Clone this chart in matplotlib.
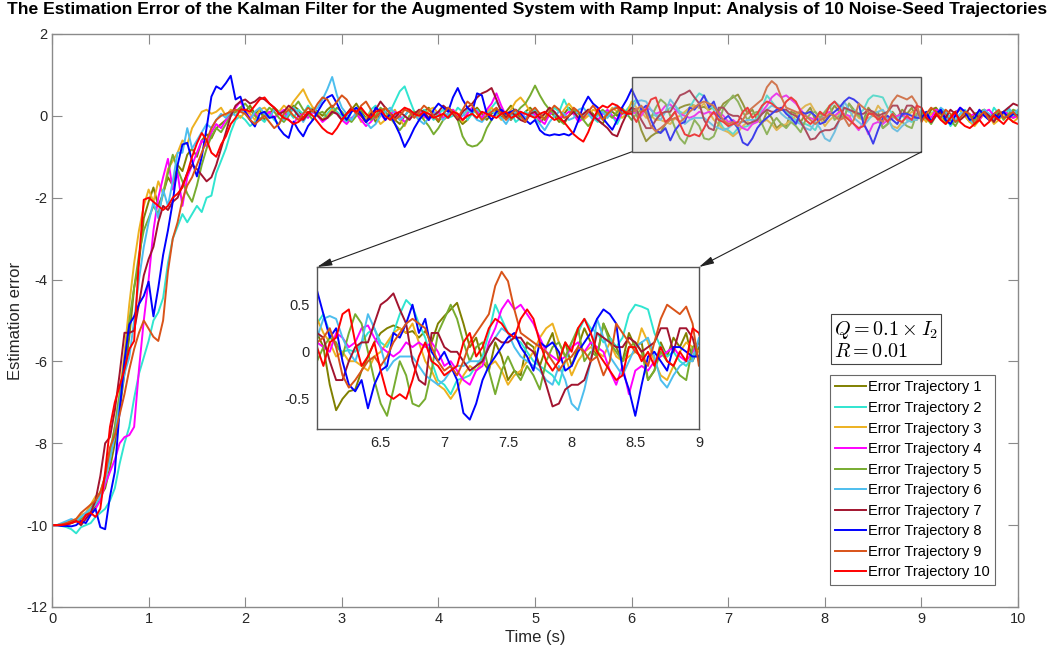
import numpy as np
import matplotlib
matplotlib.use("Agg")
import matplotlib.pyplot as plt
from matplotlib.patches import Rectangle

plt.rcParams['font.family'] = ['Liberation Sans', 'DejaVu Sans']
plt.rcParams['mathtext.fontset'] = 'cm'

# Time axis: 0 .. 10 s, sampled every 0.05 s
time_s = np.linspace(0.0, 10.0, 201)

traj_1 = [
    -10.00, -10.00, -10.00, -9.98, -9.95, -9.90, -9.85, -9.80, -9.70, -9.55, -9.30, -9.10, -8.60, -8.00, -7.20, -6.30, -5.40, -4.20, -3.60, -2.50,
    -2.10, -1.75, -2.20, -1.90, -1.50, -1.70, -1.20, -1.35, -0.95, -0.80, -1.00, -0.60, -0.45, -0.55, -0.30, -0.20, -0.10, 0.05, 0.10, 0.20,
    0.10, 0.25, 0.05, 0.15, -0.10, 0.05, 0.20, 0.10, -0.05, 0.10, 0.25, 0.15, -0.05, 0.05, 0.20, 0.10, 0.00, 0.15, 0.25, 0.05,
    -0.10, 0.05, 0.15, 0.30, 0.10, -0.05, 0.10, -0.15, 0.05, 0.20, 0.10, -0.10, -0.20, 0.00, 0.15, 0.05, -0.10, 0.10, 0.20, 0.00,
    -0.15, 0.05, 0.20, 0.10, -0.05, -0.20, -0.10, 0.10, 0.20, 0.05, -0.10, 0.05, 0.15, -0.05, 0.10, 0.25, 0.10, -0.05, 0.10, 0.20,
    0.05, -0.15, -0.05, 0.10, 0.00, -0.15, 0.05, 0.20, 0.10, -0.10, 0.00, 0.15, 0.05, -0.10, -0.20, 0.05, 0.10, 0.00, 0.15, 0.05,
    0.20, 0.05, -0.35, -0.62, -0.50, -0.42, -0.40, -0.20, -0.05, 0.10, 0.20, 0.25, 0.28, 0.25, 0.20, 0.22, 0.15, 0.22, 0.10, 0.30,
    0.38, 0.45, 0.52, 0.30, 0.05, 0.15, -0.10, -0.20, 0.10, -0.05, -0.30, -0.20, -0.25, 0.10, 0.05, -0.15, 0.05, 0.20, -0.10, 0.10,
    -0.15, 0.05, 0.25, 0.10, -0.05, 0.30, 0.15, 0.05, -0.10, 0.20, 0.05, 0.10, -0.30, -0.20, 0.10, -0.05, 0.15, 0.05, 0.20, -0.10,
    0.05, -0.10, 0.15, 0.20, 0.05, -0.15, 0.00, 0.10, 0.15, 0.00, -0.15, 0.05, 0.10, 0.15, 0.00, -0.10, 0.05, 0.10, 0.00, -0.05,
    0.05,
]

traj_2 = [
    -10.00, -10.00, -10.02, -10.05, -10.10, -10.20, -10.05, -10.00, -9.95, -9.80, -9.70, -9.60, -9.40, -9.10, -8.50, -8.00, -7.60, -6.90, -6.30, -5.90,
    -5.50, -5.00, -4.80, -4.45, -3.60, -3.00, -2.70, -2.40, -2.60, -2.40, -2.20, -2.35, -2.00, -1.95, -1.40, -1.10, -0.80, -0.40, -0.10, 0.00,
    -0.10, -0.25, -0.15, -0.05, -0.15, 0.05, -0.10, -0.20, 0.00, 0.10, -0.05, 0.15, 0.05, 0.25, 0.10, 0.00, -0.10, 0.05, 0.20, 0.10,
    0.00, -0.15, 0.10, 0.20, 0.05, -0.10, 0.15, 0.25, 0.05, -0.05, 0.10, 0.35, 0.60, 0.72, 0.40, 0.10, 0.00, 0.15, 0.05, -0.10,
    0.05, 0.15, -0.05, 0.00, 0.20, 0.10, -0.10, 0.05, 0.15, -0.05, 0.00, 0.20, 0.35, 0.15, 0.05, 0.10, -0.15, -0.05, 0.10, 0.00,
    0.15, 0.05, -0.10, 0.00, 0.20, 0.10, 0.40, 0.15, 0.05, -0.10, 0.00, 0.15, -0.05, -0.15, 0.05, 0.10, 0.00, -0.20, 0.05, 0.15,
    0.30, 0.40, 0.20, 0.05, 0.00, 0.02, 0.00, 0.10, 0.20, 0.25, 0.10, 0.05, 0.20, 0.40, 0.55, 0.48, 0.30, 0.15, -0.10, -0.30,
    -0.35, -0.45, -0.30, -0.28, -0.25, -0.15, -0.05, 0.20, 0.50, 0.35, 0.20, 0.15, 0.10, 0.00, -0.10, -0.15, -0.20, -0.25, -0.35, -0.10,
    0.10, 0.20, 0.35, 0.25, 0.20, 0.10, 0.15, 0.05, 0.15, 0.40, 0.50, 0.48, 0.45, 0.20, 0.05, -0.05, 0.00, -0.10, -0.15, -0.05,
    0.10, -0.10, 0.05, 0.15, -0.05, 0.00, -0.25, -0.10, 0.05, 0.15, 0.00, -0.15, 0.10, 0.05, -0.10, 0.20, 0.05, -0.05, 0.15, 0.00,
    0.10,
]

traj_3 = [
    -10.00, -10.00, -10.00, -9.95, -9.90, -9.85, -9.75, -9.70, -9.50, -9.30, -9.20, -8.90, -8.40, -7.60, -6.80, -5.80, -4.60, -3.60, -2.80, -2.20,
    -1.80, -2.10, -1.60, -1.90, -1.30, -1.10, -0.90, -0.60, -0.70, -0.30, -0.10, 0.10, 0.15, 0.05, 0.10, 0.20, 0.00, 0.15, 0.10, -0.05,
    0.10, 0.05, -0.10, 0.15, 0.20, 0.05, -0.05, 0.10, 0.25, 0.15, 0.35, 0.50, 0.65, 0.40, 0.20, 0.05, -0.10, 0.00, 0.15, 0.05,
    -0.10, 0.05, 0.20, 0.10, -0.15, -0.05, 0.10, 0.00, -0.20, -0.10, 0.05, 0.15, -0.10, -0.25, 0.00, 0.10, 0.05, -0.05, 0.15, 0.20,
    0.05, -0.10, 0.00, 0.15, 0.05, -0.15, 0.10, 0.20, 0.05, -0.05, 0.10, 0.20, 0.05, -0.10, 0.00, 0.15, 0.35, 0.45, 0.30, 0.10,
    0.00, -0.10, 0.05, 0.20, 0.10, -0.05, 0.15, 0.30, 0.15, 0.05, -0.10, 0.00, 0.15, 0.10, -0.05, 0.05, 0.20, 0.10, -0.05, 0.05,
    0.35, 0.20, 0.10, -0.05, 0.00, -0.10, -0.10, -0.15, -0.20, -0.05, 0.00, 0.10, 0.20, 0.25, 0.20, 0.30, 0.10, -0.10, -0.20, -0.35,
    -0.40, -0.50, -0.40, -0.25, -0.15, -0.20, -0.10, -0.15, -0.10, -0.20, -0.35, -0.25, -0.20, -0.10, 0.00, 0.15, 0.25, 0.30, 0.10, -0.05,
    -0.25, -0.10, 0.00, 0.05, 0.00, -0.05, 0.10, -0.05, -0.10, -0.05, 0.00, 0.25, 0.10, -0.10, -0.25, -0.30, -0.15, 0.00, 0.10, 0.05,
    0.00, -0.15, 0.05, 0.10, -0.05, -0.20, -0.10, 0.05, 0.15, 0.00, -0.15, -0.25, -0.10, 0.05, 0.00, -0.20, -0.10, 0.05, -0.05, -0.15,
    -0.05,
]

traj_4 = [
    -10.00, -10.00, -9.98, -9.95, -9.92, -9.90, -9.88, -9.80, -9.75, -9.60, -9.40, -9.00, -8.70, -8.40, -8.00, -7.85, -7.80, -7.60, -6.20, -5.00,
    -4.00, -2.80, -2.00, -1.50, -1.05, -1.80, -1.40, -2.20, -1.50, -1.20, -0.90, -0.60, -0.75, -0.40, -0.20, -0.30, -0.10, 0.00, 0.20, 0.35,
    0.10, -0.05, 0.05, -0.10, 0.00, 0.10, -0.05, 0.05, 0.15, -0.10, -0.20, 0.00, 0.05, -0.05, 0.10, 0.00, -0.15, -0.05, 0.10, 0.05,
    -0.10, -0.20, -0.05, 0.05, -0.10, -0.25, -0.15, 0.00, 0.05, -0.10, 0.05, 0.10, 0.00, -0.15, -0.05, 0.05, 0.10, 0.00, -0.10, 0.05,
    0.10, -0.05, 0.05, 0.15, 0.00, -0.10, 0.05, 0.20, 0.10, -0.05, 0.15, 0.30, 0.55, 0.25, 0.00, -0.10, 0.05, 0.10, -0.05, 0.00,
    0.05, -0.10, -0.20, 0.05, 0.10, -0.05, 0.00, 0.10, 0.05, -0.15, -0.05, 0.10, 0.00, -0.10, 0.05, 0.15, 0.00, -0.10, 0.05, 0.10,
    0.10, 0.05, 0.00, 0.20, 0.15, 0.05, 0.10, 0.25, 0.28, 0.15, 0.05, 0.00, -0.05, 0.00, 0.10, 0.05, 0.10, 0.05, 0.10, 0.00,
    -0.15, -0.10, -0.20, -0.30, -0.35, -0.20, -0.15, 0.10, 0.25, 0.45, 0.55, 0.45, 0.50, 0.40, 0.30, 0.15, 0.00, -0.05, -0.10, -0.05,
    0.05, 0.10, 0.00, 0.10, 0.05, 0.00, -0.20, -0.35, -0.15, -0.45, -0.20, -0.15, -0.20, -0.10, -0.05, 0.00, 0.05, -0.05, -0.10, 0.00,
    0.10, 0.05, -0.05, 0.15, 0.10, 0.00, -0.10, 0.05, 0.20, 0.10, 0.00, 0.05, -0.10, 0.10, 0.15, 0.00, -0.05, 0.10, 0.05, -0.05,
    0.00,
]

traj_5 = [
    -10.00, -10.00, -9.98, -9.95, -9.92, -9.90, -9.85, -9.75, -9.60, -9.40, -9.20, -8.80, -8.20, -7.60, -6.80, -6.00, -5.00, -4.20, -3.40, -2.80,
    -2.50, -2.20, -2.40, -1.90, -1.40, -0.95, -1.30, -1.60, -1.90, -2.10, -1.70, -1.20, -0.80, -0.50, -0.30, -0.40, -0.20, 0.00, 0.10, 0.20,
    0.30, 0.15, 0.00, -0.10, 0.05, 0.20, 0.10, -0.05, -0.15, 0.00, 0.20, 0.35, 0.15, 0.05, -0.10, 0.05, 0.10, -0.05, 0.05, 0.20,
    0.10, -0.05, -0.15, 0.00, 0.15, 0.05, -0.10, 0.00, 0.20, 0.10, -0.05, -0.20, -0.35, -0.20, 0.00, 0.10, 0.05, -0.10, -0.25, -0.45,
    -0.30, -0.10, 0.00, 0.10, -0.10, -0.50, -0.70, -0.75, -0.72, -0.60, -0.30, -0.10, 0.05, 0.15, 0.00, -0.10, 0.05, 0.20, 0.30, 0.50,
    0.74, 0.50, 0.30, 0.15, 0.05, -0.10, -0.20, 0.00, 0.15, 0.05, -0.10, -0.25, -0.10, 0.05, 0.15, 0.05, -0.05, 0.10, 0.20, 0.05,
    -0.10, 0.05, 0.15, 0.10, -0.05, 0.20, 0.40, 0.30, 0.00, -0.30, -0.55, -0.68, -0.40, -0.10, -0.25, -0.55, -0.58, -0.50, -0.20, 0.20,
    0.35, 0.50, 0.35, 0.10, -0.10, 0.05, 0.10, -0.20, -0.45, -0.20, -0.05, -0.20, -0.30, -0.15, -0.25, -0.40, -0.10, 0.05, 0.10, -0.05,
    0.10, 0.25, -0.10, 0.00, -0.05, 0.30, 0.10, 0.00, -0.10, 0.05, 0.10, 0.00, -0.30, -0.20, 0.00, -0.10, -0.15, -0.25, -0.30, 0.05,
    0.10, -0.05, -0.20, 0.00, 0.15, 0.05, -0.10, -0.25, -0.05, 0.10, 0.00, -0.10, 0.05, 0.15, -0.05, 0.00, 0.10, -0.10, 0.05, 0.15,
    0.10,
]

traj_6 = [
    -10.00, -10.00, -9.95, -9.90, -9.85, -9.90, -9.80, -9.70, -9.60, -9.50, -9.30, -8.90, -8.40, -7.80, -7.00, -6.30, -5.90, -5.00, -4.00, -3.20,
    -2.60, -2.10, -2.50, -1.80, -2.20, -1.60, -0.90, -0.90, -0.30, -0.80, -0.60, -0.40, -0.20, -0.30, -0.10, 0.05, -0.05, 0.10, 0.00, 0.15,
    0.05, -0.10, 0.10, 0.20, 0.05, -0.05, 0.15, 0.10, -0.10, 0.05, 0.20, 0.05, -0.15, 0.05, 0.10, 0.20, 0.40, 0.65, 0.95, 0.50,
    0.20, 0.05, -0.10, 0.10, 0.00, -0.15, -0.30, -0.20, 0.00, 0.10, 0.20, 0.05, -0.10, 0.00, 0.15, 0.05, -0.10, -0.20, -0.05, 0.10,
    0.00, -0.10, 0.05, 0.10, -0.05, 0.00, 0.15, 0.05, -0.10, -0.15, 0.00, 0.10, 0.05, -0.05, -0.20, 0.00, 0.10, 0.05, -0.05, 0.10,
    -0.05, -0.20, -0.35, -0.15, 0.00, 0.10, 0.05, -0.10, -0.05, 0.15, 0.20, 0.05, -0.10, 0.00, 0.10, -0.05, 0.15, 0.25, 0.10, 0.00,
    0.15, 0.35, 0.38, 0.35, 0.15, 0.00, -0.10, 0.10, 0.40, 0.25, 0.05, -0.20, -0.10, -0.05, -0.05, -0.05, -0.15, -0.25, -0.30, -0.35,
    -0.30, -0.20, -0.15, -0.15, -0.10, -0.10, -0.10, 0.05, 0.15, 0.25, 0.20, 0.05, -0.05, -0.10, -0.15, -0.20, -0.30, -0.35, -0.15, -0.30,
    -0.55, -0.62, -0.40, -0.10, 0.35, 0.15, -0.05, -0.15, -0.25, -0.10, 0.05, 0.10, 0.15, -0.05, -0.30, -0.38, -0.25, -0.15, -0.10, -0.10,
    0.15, 0.05, -0.10, 0.00, 0.20, 0.10, -0.05, -0.15, 0.05, 0.10, -0.10, -0.20, 0.00, 0.15, 0.05, -0.10, -0.05, 0.10, 0.20, 0.05,
    0.15,
]

traj_7 = [
    -10.00, -10.00, -10.00, -9.98, -9.95, -9.90, -10.00, -9.85, -9.70, -9.40, -8.80, -8.00, -7.85, -7.20, -6.30, -5.30, -5.30, -5.25, -4.60, -3.90,
    -3.50, -3.20, -2.60, -2.20, -2.30, -2.10, -2.00, -1.70, -1.40, -1.20, -1.30, -1.45, -1.60, -1.50, -1.20, -0.80, -0.40, 0.00, 0.25, 0.35,
    0.40, 0.30, 0.35, 0.45, 0.40, 0.30, 0.20, 0.05, 0.10, 0.25, 0.15, 0.00, -0.10, 0.05, 0.15, 0.00, -0.10, -0.05, 0.10, 0.05,
    -0.10, 0.05, 0.20, 0.10, 0.00, -0.15, 0.05, 0.15, 0.35, 0.20, 0.05, -0.05, 0.10, 0.00, -0.10, 0.05, 0.15, 0.10, -0.05, 0.00,
    0.10, 0.25, 0.15, 0.05, -0.10, 0.10, 0.20, 0.30, 0.45, 0.55, 0.60, 0.68, 0.40, 0.10, -0.05, 0.10, 0.00, -0.10, -0.15, 0.05,
    0.10, -0.05, 0.05, 0.20, 0.10, -0.05, -0.15, 0.00, 0.10, -0.05, 0.05, 0.15, 0.00, -0.10, -0.20, -0.30, -0.45, -0.50, -0.20, 0.05,
    0.20, 0.15, -0.10, -0.30, -0.30, -0.10, 0.05, 0.10, 0.10, 0.30, 0.50, 0.55, 0.62, 0.45, 0.30, -0.10, -0.30, -0.35, 0.20, 0.20,
    0.05, 0.00, 0.00, -0.10, -0.20, -0.15, -0.10, 0.05, 0.15, 0.10, 0.10, 0.15, 0.15, 0.05, 0.00, -0.15, -0.35, -0.58, -0.55, -0.40,
    -0.35, -0.35, -0.30, -0.10, 0.20, 0.15, 0.10, 0.05, 0.05, 0.15, 0.10, 0.00, 0.05, 0.10, 0.25, 0.25, 0.00, 0.25, 0.25, 0.15,
    -0.10, 0.05, -0.15, 0.00, 0.10, -0.05, 0.15, 0.05, -0.10, 0.00, 0.20, 0.05, -0.05, 0.10, 0.00, -0.15, 0.05, 0.10, 0.20, 0.30,
    0.25,
]

traj_8 = [
    -10.00, -10.00, -10.02, -10.02, -10.03, -10.00, -9.90, -9.95, -9.75, -9.60, -10.05, -10.10, -9.30, -8.70, -7.20, -6.00, -5.10, -4.90, -4.60, -4.40,
    -4.05, -4.90, -4.20, -3.40, -2.80, -2.10, -1.20, -0.70, -0.66, -1.10, -1.48, -1.00, -0.30, 0.47, 0.72, 0.65, 0.80, 0.98, 0.40, 0.47,
    0.10, -0.10, -0.26, 0.05, 0.10, -0.05, -0.02, -0.30, -0.45, -0.54, -0.14, -0.35, -0.50, -0.25, -0.10, 0.10, 0.30, 0.45, 0.51, 0.30,
    0.05, -0.10, 0.10, 0.20, 0.05, -0.15, -0.05, 0.20, 0.10, -0.10, 0.05, -0.20, -0.45, -0.76, -0.55, -0.30, -0.10, 0.05, -0.10, 0.15,
    0.30, 0.20, 0.10, 0.45, 0.68, 0.40, 0.20, 0.10, 0.55, 0.50, 0.05, -0.10, 0.10, 0.15, 0.05, 0.10, 0.15, 0.05, -0.10, -0.20,
    -0.10, -0.35, -0.45, -0.48, -0.45, -0.47, -0.44, -0.48, -0.40, -0.10, 0.25, 0.47, 0.30, 0.20, -0.05, -0.20, -0.34, -0.10, 0.20, 0.40,
    0.65, 0.40, 0.15, 0.25, -0.10, -0.35, -0.42, -0.30, -0.60, -0.35, -0.20, -0.15, 0.20, 0.15, 0.30, 0.50, 0.20, 0.35, 0.00, -0.10,
    0.00, -0.15, -0.30, -0.65, -0.72, -0.55, -0.30, -0.15, -0.05, 0.05, 0.15, 0.20, 0.05, -0.05, -0.20, 0.10, 0.05, 0.10, 0.00, -0.20,
    -0.15, 0.00, 0.10, 0.20, 0.35, 0.45, 0.40, 0.30, -0.20, -0.40, -0.68, -0.35, -0.05, 0.00, -0.10, -0.20, 0.05, 0.05, 0.00, -0.05,
    -0.05, 0.10, -0.15, 0.05, 0.15, -0.10, -0.20, 0.00, 0.20, 0.10, -0.10, -0.05, 0.15, 0.00, -0.10, 0.05, -0.05, 0.10, -0.05, 0.05,
    0.00,
]

traj_9 = [
    -10.00, -10.00, -9.98, -9.95, -9.90, -9.85, -9.70, -9.60, -9.50, -9.40, -9.20, -8.80, -8.10, -7.80, -7.30, -6.80, -6.20, -5.70, -5.30, -5.00,
    -5.20, -5.40, -5.50, -5.00, -3.80, -3.00, -2.60, -2.05, -1.70, -1.50, -1.20, -0.90, -0.60, -0.30, -0.10, 0.00, 0.05, 0.10, 0.15, 0.10,
    0.05, -0.10, -0.20, -0.10, 0.00, -0.15, -0.30, -0.20, 0.05, 0.15, 0.00, -0.10, 0.05, 0.20, 0.10, 0.30, 0.45, 0.40, 0.20, 0.35,
    0.50, 0.40, 0.20, 0.05, 0.25, 0.35, 0.15, -0.05, 0.10, 0.20, 0.05, -0.10, 0.00, 0.15, 0.10, -0.05, 0.10, 0.25, 0.15, 0.00,
    -0.10, 0.05, 0.20, 0.10, -0.05, 0.15, 0.35, 0.25, 0.05, -0.10, 0.00, 0.10, 0.20, 0.05, -0.10, 0.05, 0.15, 0.00, -0.15, 0.10,
    0.20, 0.05, -0.10, 0.10, 0.25, 0.15, -0.05, 0.00, 0.20, 0.10, -0.05, 0.10, 0.25, 0.10, -0.10, 0.05, 0.15, 0.20, 0.05, 0.10,
    0.10, 0.15, 0.25, 0.05, -0.25, -0.38, -0.30, -0.20, -0.10, -0.05, -0.15, -0.05, 0.10, 0.20, 0.30, 0.35, 0.30, 0.25, 0.05, -0.10,
    -0.20, -0.15, -0.25, -0.10, 0.10, 0.20, 0.30, 0.40, 0.70, 0.85, 0.75, 0.45, 0.20, 0.15, 0.10, 0.05, 0.00, -0.10, -0.20, -0.10,
    -0.05, 0.05, 0.00, -0.10, -0.05, -0.25, -0.10, 0.30, 0.20, 0.10, 0.00, -0.05, -0.15, 0.10, 0.35, 0.50, 0.45, 0.40, 0.48, 0.30,
    -0.15, 0.05, 0.20, 0.10, -0.05, 0.15, 0.05, -0.15, -0.05, 0.10, 0.05, -0.20, 0.00, 0.10, -0.10, 0.05, 0.15, -0.05, 0.00, 0.10,
    -0.05,
]

traj_10 = [
    -10.00, -10.00, -10.00, -9.98, -9.95, -9.90, -9.95, -9.75, -9.70, -9.80, -9.60, -8.70, -7.60, -7.00, -6.60, -6.20, -5.70, -5.50, -3.50, -2.05,
    -2.00, -2.10, -2.20, -2.30, -2.20, -2.00, -1.90, -1.75, -1.40, -1.00, -0.67, -0.42, -0.59, -0.90, -1.00, -0.70, -0.50, -0.20, -0.05, 0.15,
    0.15, 0.10, 0.25, 0.40, 0.45, 0.30, 0.20, 0.05, -0.05, -0.10, -0.20, -0.15, -0.05, 0.10, 0.00, -0.15, -0.30, -0.40, -0.45, -0.30,
    -0.10, 0.05, 0.15, 0.10, 0.20, 0.05, -0.05, 0.10, 0.15, 0.00, -0.10, 0.05, 0.10, 0.20, 0.15, 0.05, 0.00, 0.10, 0.05, -0.05,
    0.00, 0.05, -0.05, 0.10, 0.05, -0.10, 0.00, 0.05, -0.05, 0.10, 0.05, 0.00, -0.05, 0.05, 0.10, -0.05, 0.00, 0.10, 0.05, 0.00,
    -0.05, 0.05, 0.10, 0.00, -0.10, -0.05, -0.15, -0.30, -0.45, -0.55, -0.63, -0.40, -0.10, 0.15, 0.25, 0.20, 0.30, 0.25, 0.15, 0.05,
    0.05, -0.15, 0.10, 0.15, 0.40, 0.45, 0.10, -0.15, -0.05, 0.10, -0.20, -0.45, -0.50, -0.45, -0.50, -0.30, -0.05, 0.10, -0.10, -0.15,
    -0.25, -0.20, -0.15, 0.10, 0.20, -0.05, 0.05, 0.25, 0.35, 0.30, 0.20, 0.15, 0.35, 0.45, 0.35, 0.10, -0.10, -0.20, -0.10, 0.10,
    0.00, 0.25, 0.35, 0.20, 0.00, -0.10, -0.20, -0.30, -0.25, 0.05, 0.05, -0.10, 0.00, -0.15, 0.05, -0.10, -0.15, 0.00, -0.10, 0.25,
    0.20, -0.05, -0.15, 0.05, -0.10, -0.20, -0.05, 0.10, -0.15, -0.25, -0.30, -0.20, -0.10, -0.25, -0.15, 0.00, -0.10, -0.20, -0.05, -0.15,
    -0.20,
]

trajectories = [traj_1, traj_2, traj_3, traj_4, traj_5, traj_6, traj_7, traj_8, traj_9, traj_10]
labels = [f"Error Trajectory {k}" for k in range(1, 11)]
colors = ['#808000', '#30E5D0', '#EDB120', '#FF00FF', '#77AC30',
          '#4DBEEE', '#A2142F', '#0000FF', '#D95319', '#FF0000']

x_ticks = [0, 1, 2, 3, 4, 5, 6, 7, 8, 9, 10]
y_ticks = [-12, -10, -8, -6, -4, -2, 0, 2]
inset_x_ticks = [6.5, 7, 7.5, 8, 8.5, 9]
inset_y_ticks = [-0.5, 0, 0.5]
zoom_t = (6.0, 9.0)
zoom_e = (-0.88, 0.95)

axis_grey = '#8a8a8a'
text_grey = '#262626'

fig = plt.figure(figsize=(10.55, 6.55), dpi=100)
ax = fig.add_axes([0.0493, 0.0733, 0.9157, 0.8748])

for series, lab, col in zip(trajectories, labels, colors):
    ax.plot(time_s, series, color=col, lw=1.4, label=lab, zorder=2)

ax.set_xlim(0, 10)
ax.set_ylim(-12, 2)
ax.set_xticks(x_ticks)
ax.set_yticks(y_ticks)
ax.set_xticklabels([str(v) for v in x_ticks])
ax.set_yticklabels([str(v) for v in y_ticks])
ax.tick_params(direction='in', length=7, width=0.8, color=axis_grey,
               labelcolor=text_grey, labelsize=10.5, top=True, right=True)
for sp in ax.spines.values():
    sp.set_color(axis_grey)
    sp.set_linewidth(1.0)
ax.set_xlabel("Time (s)", fontsize=12, color=text_grey, labelpad=3)
ax.set_ylabel("Estimation error", fontsize=12, color=text_grey, labelpad=2)
fig.suptitle("The Estimation Error of the Kalman Filter for the Augmented System with Ramp Input: "
             "Analysis of 10 Noise-Seed Trajectories",
             fontsize=12.6, fontweight='bold', x=0.5, y=0.997, va='top')

# shaded region that is magnified in the inset
ax.add_patch(Rectangle((zoom_t[0], zoom_e[0]), zoom_t[1] - zoom_t[0], zoom_e[1] - zoom_e[0],
                       facecolor='#c2c2c2', alpha=0.32, edgecolor='none', zorder=3))
ax.add_patch(Rectangle((zoom_t[0], zoom_e[0]), zoom_t[1] - zoom_t[0], zoom_e[1] - zoom_e[0],
                       facecolor='none', edgecolor='#555555', lw=1.0, zorder=3.5))

# inset axes
ins_rect = [0.3005, 0.345, 0.3620, 0.2473]
axi = fig.add_axes(ins_rect, zorder=5)
for series, col in zip(trajectories, colors):
    axi.plot(time_s, series, color=col, lw=1.4)
axi.set_xlim(6.0, 9.0)
axi.set_ylim(-0.82, 0.9)
axi.set_xticks(inset_x_ticks)
axi.set_xticklabels(['6.5', '7', '7.5', '8', '8.5', '9'])
axi.set_yticks(inset_y_ticks)
axi.set_yticklabels(['-0.5', '0', '0.5'])
axi.tick_params(direction='in', length=0, labelcolor=text_grey, labelsize=10.5, pad=5)
for sp in axi.spines.values():
    sp.set_color('#555555')
    sp.set_linewidth(1.0)

# arrows from the shaded region to the inset corners
inset_top_left = (ins_rect[0], ins_rect[1] + ins_rect[3])
inset_top_right = (ins_rect[0] + ins_rect[2], ins_rect[1] + ins_rect[3])
for (tx, corner) in [(zoom_t[0], inset_top_left), (zoom_t[1], inset_top_right)]:
    ax.annotate('', xy=corner, xycoords='figure fraction',
                xytext=(tx, zoom_e[0]), textcoords='data',
                arrowprops=dict(arrowstyle='-|>,head_length=0.9,head_width=0.22',
                                color='#222222', lw=0.8, shrinkA=0, shrinkB=0),
                zorder=6, annotation_clip=False)

# noise covariance annotation
fig.text(0.7905, 0.513, "$Q = 0.1 \\times I_2$\n$R = 0.01$", fontsize=14.5, va='top', ha='left',
         linespacing=1.05,
         bbox=dict(boxstyle='square,pad=0.15', facecolor='white', edgecolor='#444444', lw=0.8))

leg = ax.legend(loc='upper left', bbox_to_anchor=(0.787, 0.427), bbox_transform=fig.transFigure,
                fontsize=10.5, frameon=True, fancybox=False, borderaxespad=0,
                handlelength=2.1, handletextpad=0.15, labelspacing=0.45, borderpad=0.35)
leg.get_frame().set_edgecolor('#444444')
leg.get_frame().set_linewidth(0.8)
leg.set_zorder(7)

fig.savefig("out.png", dpi=100)
